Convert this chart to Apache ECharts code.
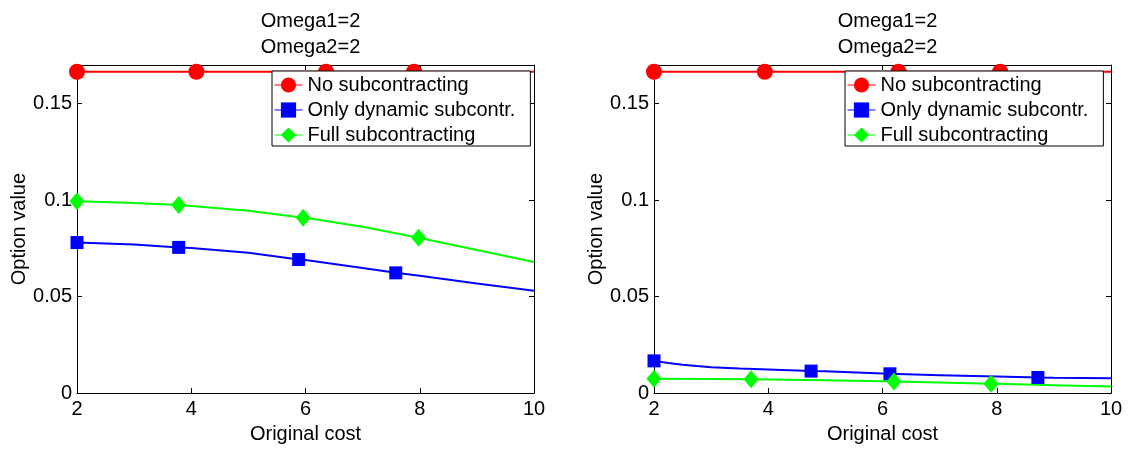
<!DOCTYPE html>
<html>
<head>
<meta charset="utf-8">
<script src="https://cdn.jsdelivr.net/npm/echarts@6/dist/echarts.min.js"></script>
<style>
  html, body { margin: 0; padding: 0; background: #fff; }
  #chart { width: 1128px; height: 449px; }
</style>
</head>
<body>
<div id="chart"></div>
<script>
// Option value against original cost, two panels (Omega1=2, Omega2=2)
const seriesNames = ['No subcontracting', 'Only dynamic subcontr.', 'Full subcontracting'];
const panelTitle = 'Omega1=2\nOmega2=2';

// ---- Left panel ----
// curves (x, value) and marker positions (x, value)
const leftNoSubCurveX = [2, 10];
const leftNoSubCurveY = [0.1665, 0.1665];
const leftNoSubMarkX  = [2, 4.09, 6.36, 7.9];
const leftNoSubMarkY  = [0.1665, 0.1665, 0.1665, 0.1665];

const leftDynCurveX = [2, 3, 4, 5, 6, 7, 8, 9, 10];
const leftDynCurveY = [0.0780, 0.0770, 0.0752, 0.0727, 0.0690, 0.0648, 0.0608, 0.0568, 0.0530];
const leftDynMarkX  = [2, 3.78, 5.88, 7.58];
const leftDynMarkY  = [0.0780, 0.0755, 0.0692, 0.0623];

const leftFullCurveX = [2, 3, 4, 5, 6, 7, 8, 9, 10];
const leftFullCurveY = [0.0994, 0.0985, 0.0970, 0.0945, 0.0908, 0.0862, 0.0804, 0.0741, 0.0679];
const leftFullMarkX  = [2, 3.78, 5.96, 7.98];
const leftFullMarkY  = [0.0994, 0.0974, 0.0909, 0.0805];

// ---- Right panel ----
const rightNoSubCurveX = [2, 10];
const rightNoSubCurveY = [0.1665, 0.1665];
const rightNoSubMarkX  = [2, 3.94, 6.28, 8.06];
const rightNoSubMarkY  = [0.1665, 0.1665, 0.1665, 0.1665];

const rightDynCurveX = [2, 2.25, 2.5, 3, 3.5, 4, 5, 6, 7, 8, 9, 10];
const rightDynCurveY = [0.0167, 0.0156, 0.0147, 0.0134, 0.0127, 0.0122, 0.0113, 0.0102, 0.0093, 0.0086, 0.0080, 0.0077];
const rightDynMarkX  = [2, 4.75, 6.13, 8.72];
const rightDynMarkY  = [0.0167, 0.0114, 0.0100, 0.0081];

const rightFullCurveX = [2, 3, 4, 5, 6, 7, 8, 9, 10];
const rightFullCurveY = [0.0074, 0.0073, 0.0071, 0.0067, 0.0062, 0.0055, 0.0048, 0.0041, 0.0034];
const rightFullMarkX  = [2, 3.70, 6.2, 7.9];
const rightFullMarkY  = [0.0074, 0.0072, 0.0060, 0.0048];

// axis settings
const xMin = 2, xMax = 10, xStep = 2;
const yMin = 0, yMax = 0.17, yStep = 0.05;

const FONT = "'Liberation Sans', Arial, Helvetica, sans-serif";
const colors = ['#ff0000', '#0000ff', '#00ff00'];
const symbols = ['circle', 'rect', 'diamond'];
const symbolSizes = [16, 13, [15, 18]];

// merge a curve and its marker points; only marker points carry a symbol
function mergePoints(cx, cy, mx, my) {
  const pts = [];
  const markerSet = new Set(mx.map(v => v.toFixed(4)));
  cx.forEach((x, i) => {
    if (!markerSet.has(x.toFixed(4))) pts.push({ value: [x, cy[i]], symbol: 'none' });
  });
  mx.forEach((x, i) => pts.push({ value: [x, my[i]] }));
  pts.sort((a, b) => a.value[0] - b.value[0]);
  return pts;
}

const panels = [
  {
    grid: { left: 77, right: 594, top: 65, bottom: 55 },
    legendLeft: 272,
    curves: [
      [leftNoSubCurveX, leftNoSubCurveY, leftNoSubMarkX, leftNoSubMarkY],
      [leftDynCurveX, leftDynCurveY, leftDynMarkX, leftDynMarkY],
      [leftFullCurveX, leftFullCurveY, leftFullMarkX, leftFullMarkY]
    ]
  },
  {
    grid: { left: 654, right: 17, top: 65, bottom: 55 },
    legendLeft: 845,
    curves: [
      [rightNoSubCurveX, rightNoSubCurveY, rightNoSubMarkX, rightNoSubMarkY],
      [rightDynCurveX, rightDynCurveY, rightDynMarkX, rightDynMarkY],
      [rightFullCurveX, rightFullCurveY, rightFullMarkX, rightFullMarkY]
    ]
  }
];

const black = '#000';
const labelStyle = { color: black, fontSize: 20, fontFamily: FONT };

const option = {
  animation: false,
  backgroundColor: '#fff',
  textStyle: { fontFamily: FONT },
  title: [],
  legend: [],
  grid: [],
  xAxis: [],
  yAxis: [],
  series: []
};

panels.forEach((p, gi) => {
  option.grid.push(Object.assign({ containLabel: false }, p.grid));
  const chartW = 1128;
  const centerX = p.grid.left + (chartW - p.grid.left - p.grid.right) / 2;
  option.title.push({
    text: panelTitle,
    left: centerX,
    top: 3,
    textAlign: 'center',
    textStyle: { color: black, fontSize: 20, fontWeight: 'normal', fontFamily: FONT, lineHeight: 26 }
  });
  option.legend.push({
    data: seriesNames,
    orient: 'vertical',
    left: p.legendLeft,
    top: 71,
    padding: [3, 15, 0, 2],
    itemGap: 3,
    itemWidth: 28,
    itemHeight: 19,
    backgroundColor: '#fff',
    borderColor: black,
    borderWidth: 1,
    borderRadius: 0,
    lineStyle: { width: 1 },
    textStyle: { color: black, fontSize: 20, fontFamily: FONT, lineHeight: 22 },
    selectedMode: false,
    z: 20
  });
  // bottom and top x axes
  option.xAxis.push({
    type: 'value', gridIndex: gi, min: xMin, max: xMax, interval: xStep, position: 'bottom',
    name: 'Original cost', nameLocation: 'middle', nameGap: 25,
    nameTextStyle: labelStyle,
    axisLine: { show: true, lineStyle: { color: black, width: 1 } },
    axisTick: { show: true, inside: true, length: 5, lineStyle: { color: black } },
    axisLabel: Object.assign({ margin: 6 }, labelStyle),
    splitLine: { show: false }
  });
  option.xAxis.push({
    type: 'value', gridIndex: gi, min: xMin, max: xMax, interval: xStep, position: 'top',
    axisLine: { show: true, onZero: false, lineStyle: { color: black, width: 1 } },
    axisTick: { show: true, inside: true, length: 5, lineStyle: { color: black } },
    axisLabel: { show: false },
    splitLine: { show: false }
  });
  // left and right y axes
  option.yAxis.push({
    type: 'value', gridIndex: gi, min: yMin, max: yMax, interval: yStep, position: 'left',
    name: 'Option value', nameLocation: 'middle', nameGap: 46, nameRotate: 90,
    nameTextStyle: labelStyle,
    axisLine: { show: true, lineStyle: { color: black, width: 1 } },
    axisTick: { show: true, inside: true, length: 5, lineStyle: { color: black } },
    axisLabel: Object.assign({ margin: 5, showMaxLabel: false }, labelStyle),
    splitLine: { show: false }
  });
  option.yAxis.push({
    type: 'value', gridIndex: gi, min: yMin, max: yMax, interval: yStep, position: 'right',
    axisLine: { show: true, onZero: false, lineStyle: { color: black, width: 1 } },
    axisTick: { show: true, inside: true, length: 5, lineStyle: { color: black } },
    axisLabel: { show: false },
    splitLine: { show: false }
  });

  p.curves.forEach((c, si) => {
    option.series.push({
      name: seriesNames[si],
      type: 'line',
      xAxisIndex: gi * 2,
      yAxisIndex: gi * 2,
      data: mergePoints(c[0], c[1], c[2], c[3]),
      smooth: false,
      symbol: symbols[si],
      symbolSize: symbolSizes[si],
      showAllSymbol: true,
      clip: false,
      color: colors[si],
      lineStyle: { color: colors[si], width: 2 },
      itemStyle: { color: colors[si], borderWidth: 0 },
      emphasis: { disabled: true },
      z: 2
    });
  });
});

const chart = echarts.init(document.getElementById('chart'), null, { renderer: 'canvas' });
chart.setOption(option);
</script>
</body>
</html>
